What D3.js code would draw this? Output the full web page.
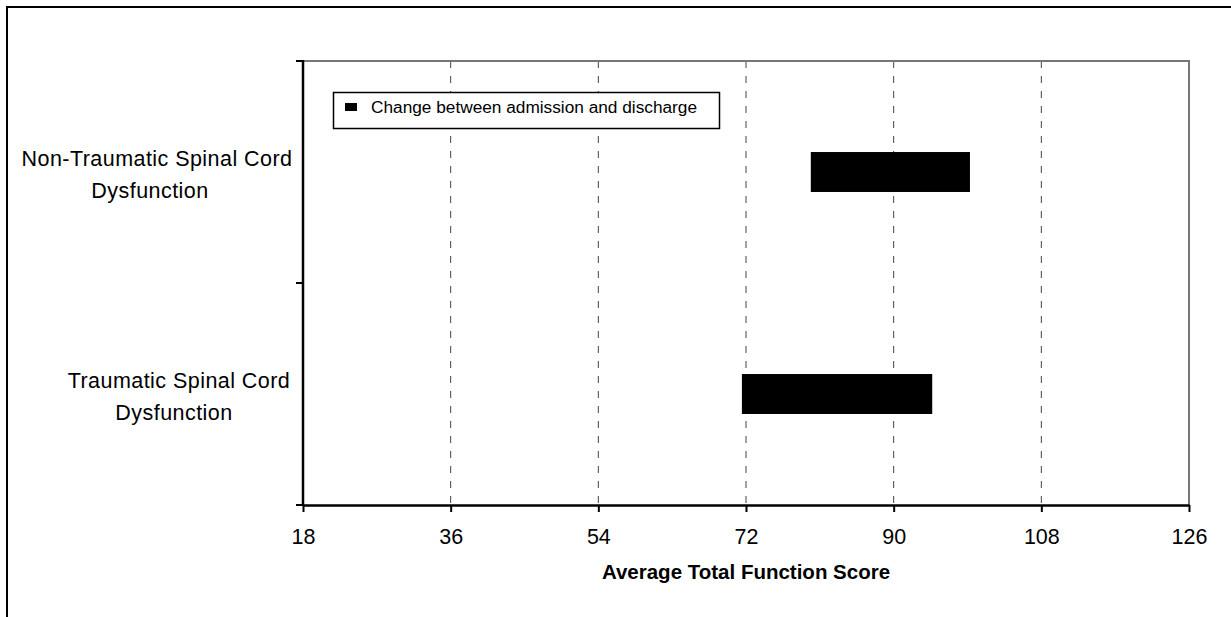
<!DOCTYPE html>
<html>
<head>
<meta charset="utf-8">
<script src="https://cdn.jsdelivr.net/npm/d3@7"></script>
<style>
  html, body { margin: 0; padding: 0; background: #fff; }
  svg { display: block; font-family: "Liberation Sans", Arial, Helvetica, sans-serif; }
</style>
</head>
<body>
<svg id="chart" width="1231" height="617"></svg>
<script>
// Diagnostic groups (top to bottom) and average total function score at admission / discharge
const categories = ["Non-Traumatic Spinal Cord Dysfunction", "Traumatic Spinal Cord Dysfunction"];
const labelLines = [["Non-Traumatic Spinal Cord", "Dysfunction"], ["Traumatic Spinal Cord", "Dysfunction"]];
const admissionScores = [79.9, 71.5];
const dischargeScores = [99.3, 94.7];
const xTicks = [18, 36, 54, 72, 90, 108, 126];
const seriesName = "Change between admission and discharge";
const axisTitle = "Average Total Function Score";

const svg = d3.select("#chart");
const W = 1231, H = 617;
const plot = { left: 303, right: 1189, top: 61, bottom: 505 };

// Outer chart frame (continues past the right and bottom edges)
svg.append("path")
  .attr("d", `M7,${H + 5} V7 H${W + 5}`)
  .attr("fill", "none").attr("stroke", "#000").attr("stroke-width", 2);

const x = d3.scaleLinear().domain([18, 126]).range([plot.left, plot.right]);
const y = d3.scaleBand().domain(categories).range([plot.top, plot.bottom]).paddingInner(0.82).paddingOuter(0.41);
const yEdges = d3.scalePoint().domain([0, 1, 2]).range([plot.top, plot.bottom]);

// Dashed vertical gridlines
svg.append("g")
  .selectAll("line")
  .data(xTicks.slice(1, -1))
  .join("line")
  .attr("x1", d => x(d)).attr("x2", d => x(d))
  .attr("y1", plot.top).attr("y2", plot.bottom)
  .attr("stroke", "#444").attr("stroke-width", 1)
  .attr("stroke-dasharray", "7,8");

// Plot-area frame: grey top and right edges
svg.append("path")
  .attr("d", `M${plot.left},${plot.top} H${plot.right} V${plot.bottom}`)
  .attr("fill", "none").attr("stroke", "#777").attr("stroke-width", 2);

// Floating bars spanning admission -> discharge
svg.append("g")
  .selectAll("rect")
  .data(categories)
  .join("rect")
  .attr("x", (d, i) => x(admissionScores[i]))
  .attr("width", (d, i) => x(dischargeScores[i]) - x(admissionScores[i]))
  .attr("y", d => y(d))
  .attr("height", y.bandwidth())
  .attr("fill", "#000");

// Bottom axis
const xAxis = svg.append("g")
  .attr("transform", `translate(0,${plot.bottom})`)
  .call(d3.axisBottom(x).tickValues(xTicks).tickSize(7).tickPadding(17).tickSizeOuter(0));
xAxis.select(".domain").attr("stroke", "#000").attr("stroke-width", 2.5);
xAxis.selectAll(".tick line").attr("stroke", "#000").attr("stroke-width", 2);
xAxis.selectAll(".tick text")
  .attr("font-family", "'Liberation Sans', Arial, sans-serif")
  .attr("font-size", 21.5).attr("fill", "#000");

// Left axis with category-boundary ticks
svg.append("line")
  .attr("x1", plot.left).attr("x2", plot.left)
  .attr("y1", plot.top - 1).attr("y2", plot.bottom + 1)
  .attr("stroke", "#000").attr("stroke-width", 2.5);
svg.append("g")
  .selectAll("line")
  .data(yEdges.domain())
  .join("line")
  .attr("x1", plot.left - 7).attr("x2", plot.left)
  .attr("y1", d => yEdges(d)).attr("y2", d => yEdges(d))
  .attr("stroke", "#000").attr("stroke-width", 2);

// Category labels, two lines each
const lineCenters = [[157, 150], [179, 174]];
const labels = svg.append("g").attr("font-size", 21.5).attr("letter-spacing", 0.45).attr("fill", "#000");
categories.forEach((c, i) => {
  const cy = y(c) + y.bandwidth() / 2;
  labelLines[i].forEach((t, j) => {
    labels.append("text")
      .attr("x", lineCenters[i][j])
      .attr("y", cy - 6 + j * 32)
      .attr("text-anchor", "middle")
      .text(t);
  });
});

// Axis title
svg.append("text")
  .attr("x", (plot.left + plot.right) / 2)
  .attr("y", 579)
  .attr("text-anchor", "middle")
  .attr("font-size", 20.5).attr("font-weight", "bold")
  .text(axisTitle);

// Legend
const legend = svg.append("g");
legend.append("rect")
  .attr("x", 333.5).attr("y", 92.5).attr("width", 386).attr("height", 36)
  .attr("fill", "#fff").attr("stroke", "#000").attr("stroke-width", 1.5);
legend.append("rect")
  .attr("x", 345).attr("y", 103).attr("width", 12).attr("height", 8)
  .attr("fill", "#000");
legend.append("text")
  .attr("x", 371).attr("y", 112.5)
  .attr("font-size", 17.25).attr("fill", "#000")
  .text(seriesName);
</script>
</body>
</html>
